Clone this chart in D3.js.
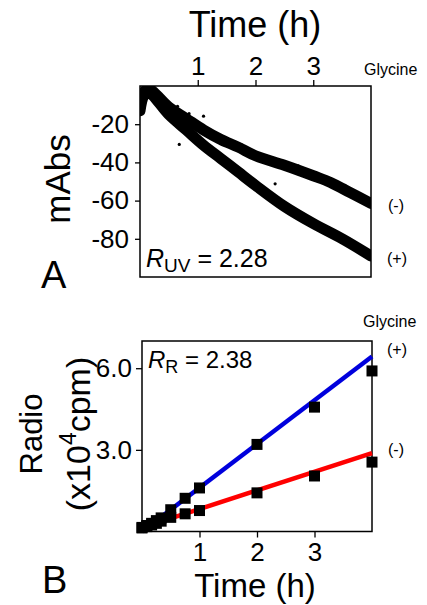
<!DOCTYPE html>
<html>
<head>
<meta charset="utf-8">
<script src="https://cdn.jsdelivr.net/npm/d3@7"></script>
<style>
  html, body { margin: 0; padding: 0; background: #fff; }
  svg { display: block; font-family: "Liberation Sans", Arial, sans-serif; }
</style>
</head>
<body>
<div id="chart"></div>
<script>
// ---------- Panel A data (UV absorbance bands) ----------
const uvMinusTime  = [0, 0.07, 0.15, 0.5, 0.8, 1.1, 1.4, 1.7, 2.0, 2.5, 3.0, 3.3, 3.65, 4.0];
const uvMinusValue = [-11, -3, -1.5, -11, -17, -23, -28, -32, -36.5, -41.5, -47, -50.5, -56, -61.5];
const uvPlusTime   = [0, 0.07, 0.15, 0.5, 0.8, 1.1, 1.4, 1.7, 2.0, 2.5, 3.0, 3.5, 4.0];
const uvPlusValue  = [-13, -5, -3.5, -15, -23, -31, -38, -45, -52, -63, -72, -80, -89];
const uvOutlierTime  = [0.65, 0.68, 0.85, 1.1, 1.52, 1.77, 1.99, 2.34, 2.74, 3.55, 3.9];
const uvOutlierValue = [-10.6, -30.6, -14.5, -15.8, -28.9, -31, -49.4, -51.2, -41.8, -52, -86];
const uvTicksX = [1, 2, 3];
const uvTicksY = [-20, -40, -60, -80];

// ---------- Panel B data (radioactivity, x10^4 cpm) ----------
const radioTime       = [0, 0.083, 0.167, 0.25, 0.333, 0.5, 0.75, 1, 2, 3, 4];
const radioPlus       = [0.15, 0.22, 0.3, 0.4, 0.5, 0.8, 1.22, 1.6, 3.2, 4.57, 5.9];
const radioMinus      = [0.13, 0.18, 0.24, 0.3, 0.38, 0.52, 0.65, 0.77, 1.42, 2.04, 2.55];
const fitTime         = [0, 4];
const fitPlus         = [0, 6.43];
const fitMinus        = [0.14, 2.88];
const radioTicksX = [1, 2, 3];
const radioTicksY = [3, 6];

const W = 427, H = 605;
const svg = d3.select("#chart").append("svg").attr("width", W).attr("height", H);

// ================= Panel A =================
const xA = d3.scaleLinear().domain([0, 4]).range([140, 371]);
const yA = d3.scaleLinear().domain([-100, 0]).range([277, 86]);

svg.append("clipPath").attr("id", "clipA").append("rect")
  .attr("x", xA(0)).attr("y", yA(0)).attr("width", xA(4) - xA(0)).attr("height", yA(-100) - yA(0));

const gA = svg.append("g").attr("clip-path", "url(#clipA)");
const lineA = d3.line().x(d => xA(d[0])).y(d => yA(d[1])).curve(d3.curveCatmullRom.alpha(0.5));
const bandMinus = uvMinusTime.map((t, i) => [t, uvMinusValue[i]]);
const bandPlus  = uvPlusTime.map((t, i) => [t, uvPlusValue[i]]);
[bandMinus, bandPlus].forEach(b => {
  gA.append("path").datum(b).attr("d", lineA)
    .attr("fill", "none").attr("stroke", "#000").attr("stroke-width", 11)
    .attr("stroke-linecap", "round").attr("stroke-linejoin", "round");
});
gA.selectAll("circle.out").data(uvOutlierTime).enter().append("circle")
  .attr("cx", (d) => xA(d)).attr("cy", (d, i) => yA(uvOutlierValue[i])).attr("r", 1.6).attr("fill", "#000");

svg.append("rect").attr("x", xA(0)).attr("y", yA(0))
  .attr("width", xA(4) - xA(0)).attr("height", yA(-100) - yA(0))
  .attr("fill", "none").attr("stroke", "#000").attr("stroke-width", 1.5);

const axTopA = svg.append("g").attr("transform", `translate(0,${yA(0)})`)
  .call(d3.axisTop(xA).tickValues(uvTicksX).tickFormat(d3.format("d")).tickSize(6).tickPadding(5));
const axLeftA = svg.append("g").attr("transform", `translate(${xA(0)},0)`)
  .call(d3.axisLeft(yA).tickValues(uvTicksY).tickFormat(d => "-" + Math.abs(d)).tickSize(5).tickPadding(6));
[axTopA, axLeftA].forEach(ax => {
  ax.select(".domain").remove();
  ax.selectAll(".tick line").attr("stroke", "#000").attr("stroke-width", 1.3);
  ax.selectAll(".tick text").attr("fill", "#000").style("font-size", "26px")
    .style("font-family", "'Liberation Sans', Arial, sans-serif");
});

svg.append("text").attr("x", 255).attr("y", 37).attr("text-anchor", "middle")
  .style("font-size", "36px").text("Time (h)");
svg.append("text").attr("x", 364).attr("y", 75).style("font-size", "16px").text("Glycine");
svg.append("text").attr("transform", "translate(70,179) rotate(-90)").attr("text-anchor", "middle")
  .style("font-size", "35px").text("mAbs");
svg.append("text").attr("x", 41).attr("y", 288).style("font-size", "38px").text("A");
svg.append("text").attr("x", 388).attr("y", 211).style("font-size", "16px").text("(-)");
svg.append("text").attr("x", 387).attr("y", 264).style("font-size", "16px").text("(+)");
const rUV = svg.append("text").attr("x", 146).attr("y", 267).style("font-size", "25px");
rUV.append("tspan").style("font-style", "italic").text("R");
rUV.append("tspan").attr("dy", 5).style("font-size", "19px").text("UV");
rUV.append("tspan").attr("dy", -5).text(" = 2.28");

// ================= Panel B =================
const xB = d3.scaleLinear().domain([0, 4]).range([142, 372]);
const yB = d3.scaleLinear().domain([0, 7]).range([531.5, 341]);

svg.append("rect").attr("x", xB(0)).attr("y", yB(7))
  .attr("width", xB(4) - xB(0)).attr("height", yB(0) - yB(7))
  .attr("fill", "none").attr("stroke", "#000").attr("stroke-width", 1.5);

const fitLine = d3.line().x(d => xB(d[0])).y(d => yB(d[1]));
svg.append("path").datum(fitTime.map((t, i) => [t, fitMinus[i]])).attr("d", fitLine)
  .attr("stroke", "#ff0000").attr("stroke-width", 4.5).attr("fill", "none");
svg.append("path").datum(fitTime.map((t, i) => [t, fitPlus[i]])).attr("d", fitLine)
  .attr("stroke", "#0000dd").attr("stroke-width", 4.5).attr("fill", "none");

const sq = 11;
[radioMinus, radioPlus].forEach(series => {
  svg.append("g").selectAll("rect").data(radioTime).enter().append("rect")
    .attr("x", d => xB(d) - sq / 2).attr("y", (d, i) => yB(series[i]) - sq / 2)
    .attr("width", sq).attr("height", sq).attr("fill", "#000");
});

const axBotB = svg.append("g").attr("transform", `translate(0,${yB(0)})`)
  .call(d3.axisBottom(xB).tickValues(radioTicksX).tickFormat(d3.format("d")).tickSize(6).tickPadding(5));
const axLeftB = svg.append("g").attr("transform", `translate(${xB(0)},0)`)
  .call(d3.axisLeft(yB).tickValues(radioTicksY).tickFormat(d3.format(".1f")).tickSize(6).tickPadding(4));
[axBotB, axLeftB].forEach(ax => {
  ax.select(".domain").remove();
  ax.selectAll(".tick line").attr("stroke", "#000").attr("stroke-width", 1.3);
  ax.selectAll(".tick text").attr("fill", "#000").style("font-size", "26px")
    .style("font-family", "'Liberation Sans', Arial, sans-serif");
});

svg.append("text").attr("x", 255).attr("y", 597).attr("text-anchor", "middle")
  .style("font-size", "33px").text("Time (h)");
svg.append("text").attr("x", 363).attr("y", 327).style("font-size", "16px").text("Glycine");
svg.append("text").attr("x", 387).attr("y", 355).style("font-size", "16px").text("(+)");
svg.append("text").attr("x", 388).attr("y", 455).style("font-size", "16px").text("(-)");
svg.append("text").attr("x", 42).attr("y", 593).style("font-size", "38px").text("B");
svg.append("text").attr("transform", "translate(42,434) rotate(-90)").attr("text-anchor", "middle")
  .style("font-size", "31px").text("Radio");
const cpm = svg.append("text").attr("transform", "translate(90,434) rotate(-90)").attr("text-anchor", "middle")
  .style("font-size", "34px");
cpm.append("tspan").text("(x10");
cpm.append("tspan").attr("dy", -14).style("font-size", "23px").text("4");
cpm.append("tspan").attr("dy", 14).text("cpm)");
const rR = svg.append("text").attr("x", 148).attr("y", 368).style("font-size", "24px");
rR.append("tspan").style("font-style", "italic").text("R");
rR.append("tspan").attr("dy", 5).style("font-size", "18px").text("R");
rR.append("tspan").attr("dy", -5).text(" = 2.38");
</script>
</body>
</html>
